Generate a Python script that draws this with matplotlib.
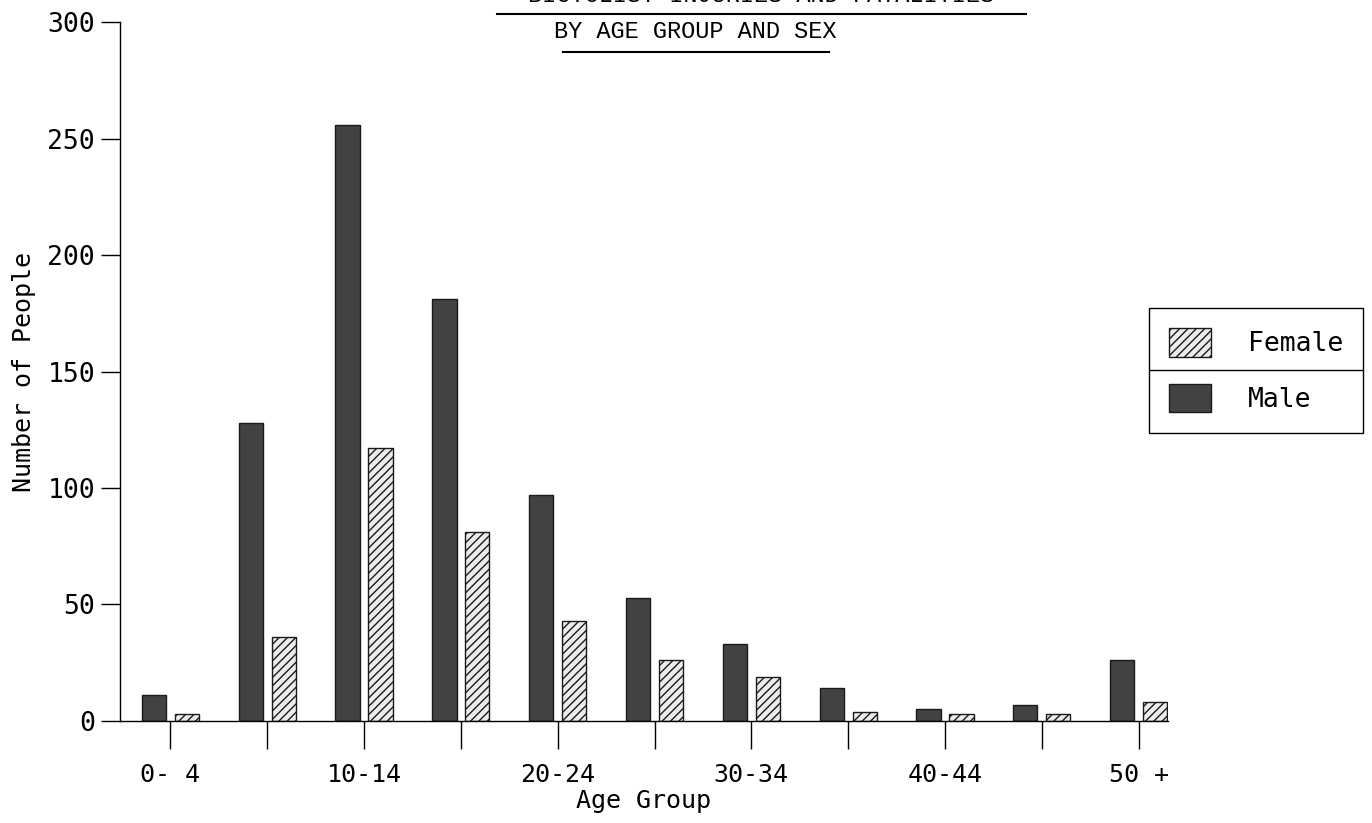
import matplotlib.pyplot as plt
import numpy as np
from matplotlib.lines import Line2D

age_groups = ["0-4", "5-9", "10-14", "15-19", "20-24", "25-29",
              "30-34", "35-39", "40-44", "45-49", "50+"]
tick_labels = ["0- 4", "", "10-14", "", "20-24", "", "30-34", "", "40-44", "", "50 +"]
male = [11, 128, 256, 181, 97, 53, 33, 14, 5, 7, 26]
female = [3, 36, 117, 81, 43, 26, 19, 4, 3, 3, 8]

mono = "DejaVu Sans Mono"

fig = plt.figure(figsize=(13.72, 8.23), dpi=100)
ax = fig.add_axes([0.0875, 0.124, 0.7636, 0.849])

x = np.arange(len(age_groups))
w = 0.25
ax.bar(x - 0.17, male, w, color="#424242", edgecolor="#1a1a1a", linewidth=1, label="Male")
ax.bar(x + 0.17, female, w, color="#ececec", edgecolor="#1a1a1a", linewidth=1,
       hatch="////", label="Female")

ax.set_xlim(-0.52, 10.30)
ax.set_ylim(0, 300)
ax.set_yticks(range(0, 301, 50))
ax.set_xticks(x)
ax.set_xticklabels(tick_labels, fontfamily=mono, fontsize=18)
for lab in ax.get_yticklabels():
    lab.set_fontfamily(mono)
    lab.set_fontsize(19)

ax.spines["top"].set_visible(False)
ax.spines["right"].set_visible(False)
ax.spines["left"].set_linewidth(1)
ax.spines["bottom"].set_linewidth(1)
ax.tick_params(axis="y", length=14, width=1, pad=4)
ax.tick_params(axis="x", length=20, width=1, pad=10)

ax.set_ylabel("Number of People", fontfamily=mono, fontsize=18, labelpad=8)
ax.set_xlabel("Age Group", fontfamily=mono, fontsize=18, labelpad=2)

# title (first line runs off the top of the page, as in the scan)
fig.text(0.555, 1.006, "BICYCLIST INJURIES AND FATALITIES", fontfamily="Liberation Mono",
         fontsize=17, ha="center", va="center")
fig.text(0.507, 0.962, "BY AGE GROUP AND SEX", fontfamily="Liberation Mono",
         fontsize=17, ha="center", va="center")
fig.add_artist(Line2D([0.362, 0.748], [0.983, 0.983], color="black", lw=1.5))
fig.add_artist(Line2D([0.410, 0.604], [0.937, 0.937], color="black", lw=1.5))

# legend, split into two boxes by a line
handles, labels = ax.get_legend_handles_labels()
leg = fig.legend(handles[::-1], labels[::-1], loc="center", bbox_to_anchor=(0.9155, 0.550),
                 prop={"family": mono, "size": 19}, frameon=True, fancybox=False,
                 edgecolor="black", framealpha=1, handlelength=1.6, handleheight=1.3,
                 labelspacing=1.0, borderpad=0.75, handletextpad=1.4, borderaxespad=0)
leg.get_frame().set_linewidth(1)
fig.canvas.draw()
bb = leg.get_frame().get_window_extent().transformed(fig.transFigure.inverted())
ymid = (bb.y0 + bb.y1) / 2
fig.add_artist(Line2D([bb.x0, bb.x1], [ymid, ymid], color="black", lw=1, zorder=10))

fig.savefig("out.png", dpi=100)
